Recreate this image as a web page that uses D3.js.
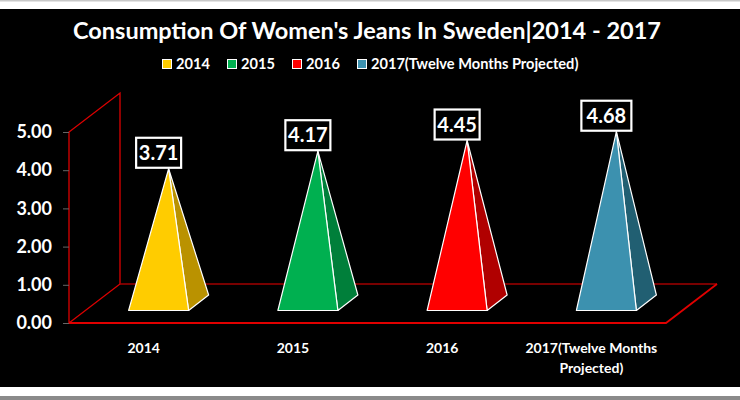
<!DOCTYPE html>
<html>
<head>
<meta charset="utf-8">
<script src="https://d3js.org/d3.v7.min.js"></script>
<style>
  html, body { margin: 0; padding: 0; background: #fff; }
  svg { display: block; }
  text { font-family: Lato, "Open Sans", sans-serif; font-weight: 700; fill: #fff; }
</style>
</head>
<body>
<div id="chart"></div>
<script>
var categories = ["2014", "2015", "2016", "2017(Twelve Months Projected)"];
var values = [3.71, 4.17, 4.45, 4.68];
var tickValues = [0, 1, 2, 3, 4, 5];
var frontColors = ["#FFCC00", "#00B050", "#FF0000", "#3C91AF"];
var sideColors = ["#BA9200", "#007F3A", "#B00000", "#215F72"];

var svgWidth = 740;
var svgHeight = 400;

// 3d box of the plot: the floor runs back by depthX / depthY
var depthX = 51;
var depthY = 39;

var svg = d3.select("#chart")
  .append("svg")
  .attr("width", svgWidth)
  .attr("height", svgHeight);

// page frame
svg.append("rect").attr("width", svgWidth).attr("height", 1.5).attr("fill", "#c8c8c8");
svg.append("rect").attr("y", 9).attr("width", svgWidth).attr("height", 378).attr("fill", "#000");
svg.append("rect").attr("y", 396).attr("width", svgWidth).attr("height", 4).attr("fill", "#8a8a8a");

var xScale = d3.scaleBand().domain(categories).range([69, 666]);
var yScale = d3.scaleLinear().domain([0, 5]).range([323, 132]);

// title
svg.append("text")
  .attr("x", 367)
  .attr("y", 39)
  .attr("text-anchor", "middle")
  .attr("font-size", "23.5px")
  .text("Consumption Of Women's Jeans In Sweden|2014 - 2017");

// legend
var legendX = [162, 227, 292, 357];
var legend = svg.selectAll(".legend")
  .data(categories)
  .enter()
  .append("g")
  .attr("class", "legend")
  .attr("transform", (d, i) => `translate(${legendX[i]}, 59)`);
legend.append("rect")
  .attr("x", 0.5).attr("y", 0.5)
  .attr("width", 9).attr("height", 9)
  .attr("fill", (d, i) => frontColors[i])
  .attr("stroke", "#fff");
legend.append("text")
  .attr("x", 14)
  .attr("y", 9.5)
  .attr("font-size", "14.6px")
  .text(d => d);

// walls and floor
var y0 = yScale(0);
var y5 = yScale(5);
var x0 = xScale.range()[0];
var x1 = xScale.range()[1];
var grid = svg.append("g").attr("fill", "none");
grid.append("path")
  .attr("d", `M${x0},${y0}V${y5}L${x0 + depthX},${y5 - depthY}V${y0 - depthY}L${x0},${y0}`)
  .attr("stroke", "#DC0000").attr("stroke-width", 1.3);
grid.append("path")
  .attr("d", `M${x0 + depthX},${y0 - depthY}H${x1 + depthX}`)
  .attr("stroke", "#A00000").attr("stroke-width", 1.6);
grid.append("path")
  .attr("d", `M${x0},${y0}H${x1}L${x1 + depthX},${y0 - depthY}`)
  .attr("stroke", "#E00000").attr("stroke-width", 1.8);

// y axis
var yAxis = d3.axisLeft(yScale)
  .tickValues(tickValues)
  .tickFormat(d3.format(".2f"))
  .tickSize(6)
  .tickPadding(11);
var yGroup = svg.append("g")
  .attr("transform", `translate(${x0}, 0)`)
  .call(yAxis);
yGroup.select(".domain").remove();
yGroup.selectAll(".tick line").attr("stroke", "#666");
yGroup.selectAll("text").attr("font-size", "18px").attr("font-family", null);

// x axis
var xAxis = d3.axisBottom(xScale).tickSize(0).tickPadding(0);
var xGroup = svg.append("g")
  .attr("transform", `translate(0, ${y0 + 20})`)
  .call(xAxis);
xGroup.select(".domain").remove();
xGroup.selectAll("text")
  .attr("font-size", "14px")
  .attr("font-family", null)
  .call(wrap, xScale.bandwidth() + 20);

// splits long category names over two lines
function wrap(selection, maxWidth) {
  selection.each(function() {
    var label = d3.select(this);
    var words = label.text().split(" ");
    var line = [];
    var tspan = label.text(null).append("tspan").attr("x", 0).attr("dy", "0.71em");
    words.forEach(function(word) {
      line.push(word);
      tspan.text(line.join(" "));
      if (tspan.node().getComputedTextLength() > maxWidth && line.length > 1) {
        line.pop();
        tspan.text(line.join(" "));
        line = [word];
        tspan = label.append("tspan").attr("x", 0).attr("dy", "20px").text(word);
      }
    });
  });
}

// pyramids sit part way back on the floor
var baseLift = 12.5;
var baseWidth = 60;
var sideX = 20;
var sideY = 15.5;
var baseInset = 15 - baseWidth / 2;

var pyramids = svg.selectAll(".pyramid")
  .data(categories)
  .enter()
  .append("g")
  .attr("class", "pyramid")
  .attr("stroke", "#fff")
  .attr("stroke-width", 1.2)
  .attr("stroke-linejoin", "round");

function frontLeft(d) { return xScale(d) + xScale.bandwidth() / 2 + baseInset; }
function baseY() { return y0 - baseLift; }
function apex(d, i) { return [frontLeft(d) + baseWidth / 2 + sideX / 2, yScale(values[i]) - baseLift]; }

pyramids.append("path")
  .attr("fill", (d, i) => sideColors[i])
  .attr("d", function(d, i) {
    var a = apex(d, i);
    var r = frontLeft(d) + baseWidth;
    return `M${a[0]},${a[1]}L${r},${baseY()}L${r + sideX},${baseY() - sideY}Z`;
  });
pyramids.append("path")
  .attr("fill", (d, i) => frontColors[i])
  .attr("d", function(d, i) {
    var a = apex(d, i);
    var l = frontLeft(d);
    return `M${a[0]},${a[1]}L${l},${baseY()}H${l + baseWidth}Z`;
  });

// value labels
var labels = svg.selectAll(".value-label")
  .data(categories)
  .enter()
  .append("g")
  .attr("class", "value-label")
  .attr("transform", function(d, i) {
    return `translate(${frontLeft(d) + baseWidth / 2}, ${apex(d, i)[1] - 1})`;
  });
labels.append("rect")
  .attr("x", (d, i) => i === 3 ? -25 : -22.5)
  .attr("y", -30)
  .attr("width", (d, i) => i === 3 ? 50 : 45)
  .attr("height", 30)
  .attr("fill", "#000")
  .attr("stroke", "#fff")
  .attr("stroke-width", 2.2);
labels.append("text")
  .attr("y", -8)
  .attr("text-anchor", "middle")
  .attr("font-size", "20px")
  .text((d, i) => d3.format(".2f")(values[i]));
</script>
</body>
</html>
